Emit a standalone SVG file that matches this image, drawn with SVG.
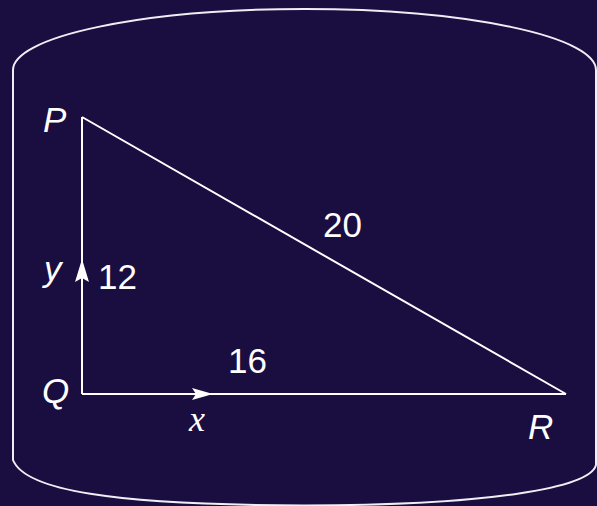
<svg xmlns="http://www.w3.org/2000/svg" width="597" height="506" viewBox="0 0 597 506">
<style>
.frame{fill:none;stroke:#f0eef5;stroke-width:2}
.edge{fill:none;stroke:#ffffff;stroke-width:2}
.lbl{font-family:"Liberation Sans",Arial,sans-serif;font-size:35px;fill:#ffffff}
.it{font-style:italic}
.xlbl{font-family:"Liberation Serif","Times New Roman",serif;font-size:36px;font-style:italic;fill:#ffffff}
.arr{fill:#ffffff}
</style>
<rect x="0" y="0" width="597" height="506" fill="#1a0d40"/>
<path class="frame" d="M13,460 L13,70 A291.5,61 0 0 1 304.5,9 A291.5,61 0 0 1 596,70 L596,465 C590,488 490,505 304.5,505.5 C110,505 25,490 13,460 Z"/>
<g id="connectors">
<path id="PQ" class="edge" d="M82,117 L82,394"/>
<path id="QR" class="edge" d="M82,394 L566,394"/>
<path id="PR" class="edge" d="M82,117 L566,394"/>
<path class="arr" d="M82,259 L89,282 L82,278 L75,282 Z"/>
<path class="arr" d="M213,394 L192,388 L196,394 L192,400 Z"/>
</g>
<g id="P"><text class="lbl it" x="43" y="132">P</text></g>
<g id="Q"><text class="lbl it" x="42" y="403">Q</text></g>
<g id="R"><text class="lbl it" x="528" y="439">R</text></g>
<g id="labels">
<text class="lbl" x="323" y="237">20</text>
<text class="lbl" x="98" y="289">12</text>
<text class="lbl" x="228" y="373">16</text>
<text class="lbl it" x="44" y="281">y</text>
<text class="xlbl" x="189" y="431">x</text>
</g>
</svg>
